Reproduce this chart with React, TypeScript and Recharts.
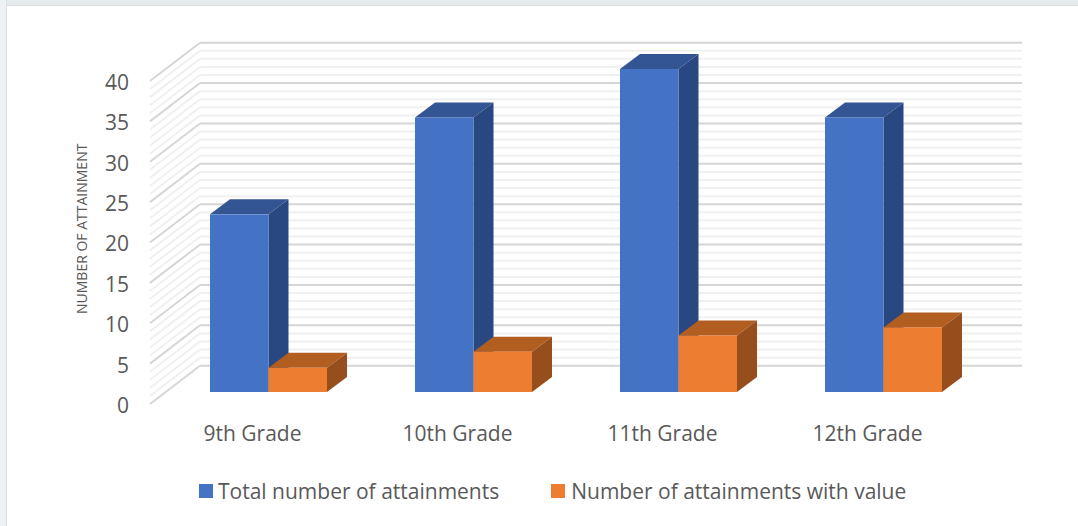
import { BarChart, Bar, XAxis, YAxis, Legend, ReferenceLine } from "recharts";

const grades = ["9th Grade", "10th Grade", "11th Grade", "12th Grade"];
const totalAttainments = [22, 34, 40, 34];
const attainmentsWithValue = [3, 5, 7, 8];
const yTicks = [0, 5, 10, 15, 20, 25, 30, 35, 40];
const minorLines = [1, 2, 3, 4, 6, 7, 8, 9, 11, 12, 13, 14, 16, 17, 18, 19, 21, 22, 23, 24, 26, 27, 28, 29, 31, 32, 33, 34, 36, 37, 38, 39];

const data = grades.map((grade, i) => ({
  grade,
  total: totalAttainments[i],
  withValue: attainmentsWithValue[i],
}));

const TEXT = "#595959";
const FONT = "'Open Sans', sans-serif";

// fake 3d: floor runs up and to the right from the axis plane to the back wall
const WALL_DX = 50;
const WALL_DY = -38.3;
const BAR_DX = 16;
const BAR_DY = -12;
const SIDE_DX = 20;
const SIDE_DY = -15;

function Box({ x, y, width, height, front, top, side }: any) {
  const l = x + BAR_DX;
  const r = l + width;
  const t = y + BAR_DY;
  const b = t + height;
  return (
    <g>
      <polygon points={`${l},${t} ${l + SIDE_DX},${t + SIDE_DY} ${r + SIDE_DX},${t + SIDE_DY} ${r},${t}`} fill={top} />
      <polygon points={`${r},${t} ${r + SIDE_DX},${t + SIDE_DY} ${r + SIDE_DX},${b + SIDE_DY} ${r},${b}`} fill={side} />
      <rect x={l} y={t} width={width} height={height} fill={front} />
    </g>
  );
}

function WallLine({ x1, y1, x2, color }: any) {
  const backY = y1 + WALL_DY;
  return (
    <g fill="none" stroke={color} strokeWidth={2}>
      <line x1={x1} y1={y1} x2={x1 + WALL_DX} y2={backY} />
      <line x1={x1 + WALL_DX} y1={backY} x2={x2 + 52} y2={backY} />
    </g>
  );
}

function LegendRow({ payload }: any) {
  return (
    <div style={{ display: "flex", fontFamily: FONT, fontSize: 21, color: TEXT, lineHeight: "28px" }}>
      {(payload || []).map((item: any, i: number) => (
        <div key={item.value} style={{ display: "flex", alignItems: "center", marginRight: 52 }}>
          <span style={{ width: 14, height: 14, background: item.color, marginRight: i === 0 ? 5 : 6 }} />
          <span>{item.value}</span>
        </div>
      ))}
    </div>
  );
}

export default function App() {
  return (
    <div style={{ position: "absolute", left: 0, top: 0, width: 1078, height: 526, background: "#fff", overflow: "hidden" }}>
      <div style={{ position: "absolute", left: 0, top: 0, width: 1078, height: 5, background: "#e6ecee", borderBottom: "1px solid #dcdfe0" }} />
      <div style={{ position: "absolute", left: 0, top: 0, width: 6, height: 526, background: "#eef2f4", borderRight: "1px solid #dcdfe0" }} />
      <BarChart
        width={1078}
        height={526}
        data={data}
        barGap={0}
        barSize={58.5}
        margin={{ top: 81, right: 108, left: 0, bottom: 44 }}
        style={{ position: "absolute", left: 0, top: 0 }}
      >
        <XAxis
          dataKey="grade"
          axisLine={false}
          tickLine={false}
          tickSize={0}
          tickMargin={22}
          height={50}
          interval={0}
          tick={{ fontSize: 21, fill: TEXT, fontFamily: FONT }}
        />
        <YAxis
          width={150}
          domain={[0, 40]}
          ticks={yTicks}
          axisLine={false}
          tickLine={false}
          tickSize={0}
          tickMargin={21}
          tick={{ fontSize: 21, fill: TEXT, fontFamily: FONT, dy: 1.5 }}
          label={{
            value: "NUMBER OF ATTAINMENT",
            angle: -90,
            position: "insideLeft",
            dx: 77,
            dy: 71.5,
            style: { fontSize: 14, fill: TEXT, fontFamily: FONT },
          }}
        />
        {minorLines.map((v) => (
          <ReferenceLine key={v} y={v} zIndex={-100} shape={(p: any) => <WallLine {...p} color="#f0f0f0" />} />
        ))}
        {yTicks.map((v) => (
          <ReferenceLine key={v} y={v} zIndex={-90} shape={(p: any) => <WallLine {...p} color="#d6d6d6" />} />
        ))}
        <Legend
          content={<LegendRow />}
          itemSorter={null}
          wrapperStyle={{ left: 199, top: 477, width: 800, height: 28 }}
        />
        <Bar
          dataKey="total"
          name="Total number of attainments"
          fill="#4472C4"
          isAnimationActive={false}
          shape={(p: any) => <Box {...p} front="#4472C4" top="#345594" side="#294780" />}
        />
        <Bar
          dataKey="withValue"
          name="Number of attainments with value"
          fill="#ED7D31"
          isAnimationActive={false}
          shape={(p: any) => <Box {...p} front="#ED7D31" top="#B15E20" side="#964F1C" />}
        />
      </BarChart>
    </div>
  );
}
